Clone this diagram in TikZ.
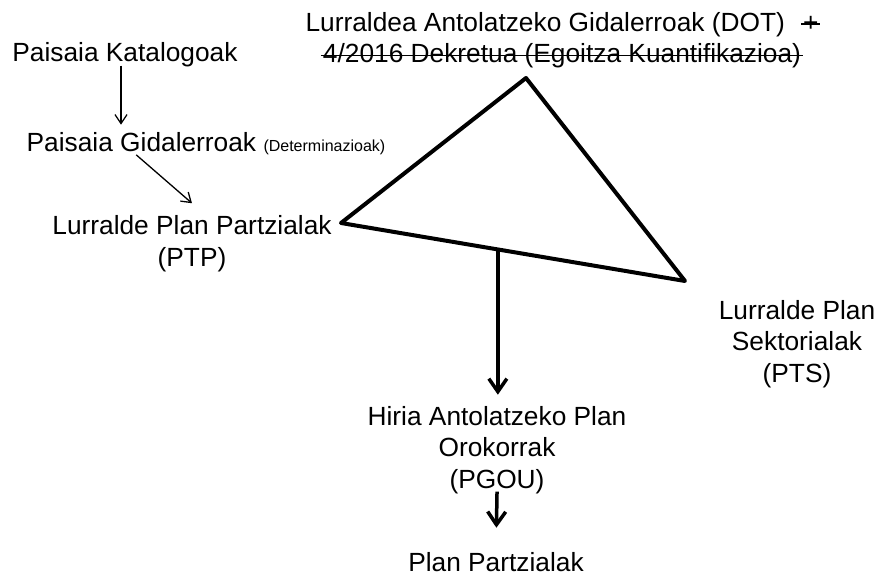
\documentclass[tikz,border=0pt]{standalone}
\usepackage{fontspec}
\setmainfont{Liberation Sans}
\usetikzlibrary{arrows.meta,calc}
\newcommand\mystrike[1]{\setbox0=\hbox{#1}\rlap{\kern-2pt\rule[0.25em]{\dimexpr\wd0+4pt\relax}{1.6pt}}\box0}
\begin{document}
\begin{tikzpicture}[x=1pt,y=-1pt,
  lbl/.style={font=\fontsize{26.3}{31.5}\selectfont, align=center, inner sep=0pt, anchor=base},
  thinarr/.style={line width=1.3pt, -{Straight Barb[length=9pt,width=12pt]}},
  thickarr/.style={line width=3.5pt, -{Straight Barb[length=13pt,width=18pt]}},
  tri/.style={line width=4pt, line join=round}]
\useasboundingbox (0,0) rectangle (879,575);

% anchor=base is the baseline of the last line
\node[lbl] (title) at (562,63) {Lurraldea Antolatzeko Gidalerroak (DOT)\hspace{18pt}\mystrike{+}\\\mystrike{4/2016 Dekretua (Egoitza Kuantifikazioa)}};
\node[lbl] (pk) at (125,62) {Paisaia Katalogoak};
\node[lbl] (pg) at (206,152) {Paisaia Gidalerroak {\fontsize{16}{16}\selectfont(Determinazioak)}};
\node[lbl] (ptp) at (192,266) {Lurralde Plan Partzialak\\(PTP)};
\node[lbl] (pts) at (797,382) {Lurralde Plan\\Sektorialak\\(PTS)};
\node[lbl] (pgou) at (497,488) {Hiria Antolatzeko Plan\\Orokorrak\\(PGOU)};
\node[lbl] (pp) at (496,571) {Plan Partzialak};

\coordinate (tl) at (341,223);
\coordinate (tt) at (526,78);
\coordinate (tr) at (685,281);
\draw[tri] (tl) -- (tt) -- (tr) -- cycle;
\coordinate (tb) at ($(tl)!0.456!(tr)$);

\draw[thinarr, shorten >=8pt, shorten <=-2pt] ([xshift=-4pt]pk.south) -- ([xshift=-4pt]pk.south |- pg.north);
\draw[thinarr, shorten <=-1pt] ([xshift=-69pt]pg.south) -- ([yshift=12pt]ptp.north);
\draw[thickarr, shorten >=11pt] (tb) -- (tb |- pgou.north);
\draw[thickarr, shorten >=24pt, shorten <=-2pt] (pgou.south) -- (pp.north);
\end{tikzpicture}
\end{document}
